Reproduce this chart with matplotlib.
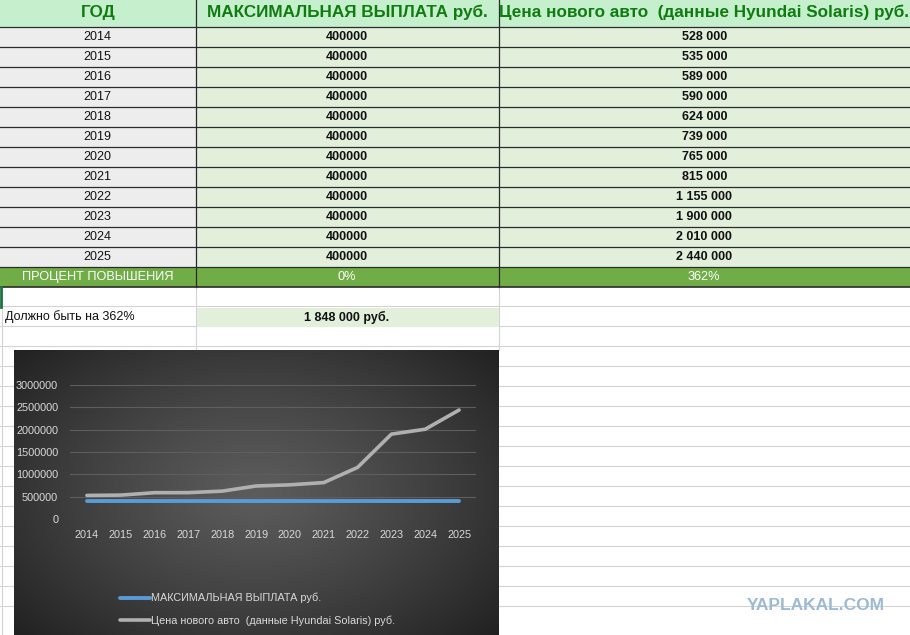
import numpy as np
import matplotlib.pyplot as plt
from matplotlib.patches import Rectangle

years = [2014, 2015, 2016, 2017, 2018, 2019, 2020, 2021, 2022, 2023, 2024, 2025]
max_payout = [400000] * 12
car_price = [528000, 535000, 589000, 590000, 624000, 739000,
             765000, 815000, 1155000, 1900000, 2010000, 2440000]
headers = ['ГОД', 'МАКСИМАЛЬНАЯ ВЫПЛАТА руб.',
           'Цена нового авто  (данные Hyundai Solaris) руб.']
percent_row = ['ПРОЦЕНТ ПОВЫШЕНИЯ', '0%', '362%']
should_label = 'Должно быть на 362%'
should_value = '1 848 000 руб.'
yticks = [0, 500000, 1000000, 1500000, 2000000, 2500000, 3000000]

W, H = 910, 635
col_x = [0, 195.5, 498.5, 910]
head_h = 27
row_h = 20

plt.rcParams['font.family'] = ['Liberation Sans', 'DejaVu Sans']

fig = plt.figure(figsize=(9.1, 6.35), dpi=100)
fig.patch.set_facecolor('white')

# --- spreadsheet part, pixel coordinates ---
sh = fig.add_axes([0, 0, 1, 1])
sh.set_xlim(0, W)
sh.set_ylim(H, 0)
sh.axis('off')

light_green = '#e2efda'
head_green = '#c6efce'
grey_cell = '#ededed'
dark_green = '#70ad47'
text_green = '#107c10'

def fmt(v):
    return f'{v:,}'.replace(',', ' ')

# faint sheet grid below / right
for k in range(16):
    y = 306 + k * row_h
    sh.plot([0, W], [y, y], color='#d4d4d4', lw=0.8, zorder=1)
sh.plot([2, 2], [286, H], color='#d4d4d4', lw=0.8, zorder=1)
sh.plot([col_x[1], col_x[1]], [286, 350], color='#d4d4d4', lw=0.8, zorder=1)
sh.plot([col_x[2], col_x[2]], [286, 350], color='#d4d4d4', lw=0.8, zorder=1)

# header
for i in range(3):
    sh.add_patch(Rectangle((col_x[i], 0), col_x[i + 1] - col_x[i], head_h,
                           fc=head_green, ec='none', zorder=2))
    sh.text((col_x[i] + col_x[i + 1]) / 2, head_h / 2 - 1, headers[i],
            ha='center', va='center', fontsize=12.3, fontweight='bold',
            color=text_green, zorder=4)

# data rows
for r, yr in enumerate(years):
    y0 = head_h + r * row_h
    sh.add_patch(Rectangle((col_x[0], y0), col_x[1] - col_x[0], row_h,
                           fc=grey_cell, ec='none', zorder=2))
    sh.add_patch(Rectangle((col_x[1], y0), col_x[3] - col_x[1], row_h,
                           fc=light_green, ec='none', zorder=2))
    yc = y0 + row_h / 2
    sh.text((col_x[0] + col_x[1]) / 2, yc, str(yr), ha='center', va='center',
            fontsize=9, color='#111111', zorder=4)
    sh.text((col_x[1] + col_x[2]) / 2, yc, str(max_payout[r]), ha='center',
            va='center', fontsize=9, fontweight='bold', color='#111111', zorder=4)
    sh.text((col_x[2] + col_x[3]) / 2, yc, fmt(car_price[r]), ha='center',
            va='center', fontsize=9, fontweight='bold', color='#111111', zorder=4)

# percent row
y0 = head_h + len(years) * row_h
sh.add_patch(Rectangle((0, y0), W, row_h, fc=dark_green, ec='none', zorder=2))
for i in range(3):
    sh.text((col_x[i] + col_x[i + 1]) / 2, y0 + row_h / 2, percent_row[i],
            ha='center', va='center', fontsize=9.2, color='white', zorder=4)

# table borders
for k in range(1, len(years) + 2):
    y = head_h + (k - 1) * row_h
    sh.plot([0, W], [y, y], color='#2b2b2b', lw=0.9, zorder=3)
sh.plot([0, W], [y0 + row_h, y0 + row_h], color='#2b2b2b', lw=1.2, zorder=3)
for x in col_x[1:3]:
    sh.plot([x, x], [0, y0 + row_h], color='#2b2b2b', lw=0.9, zorder=3)
sh.plot([1, 1], [y0 + row_h, y0 + 2 * row_h], color='#217346', lw=2, zorder=3)

# "should be" row
ys = y0 + 2 * row_h
sh.add_patch(Rectangle((col_x[1] + 1, ys + 0.5), col_x[2] - col_x[1] - 1, row_h - 1,
                       fc=light_green, ec='none', zorder=2))
sh.text(5, ys + row_h / 2, should_label, ha='left', va='center',
        fontsize=9, color='#111111', zorder=4)
sh.text((col_x[1] + col_x[2]) / 2, ys + row_h / 2, should_value, ha='center',
        va='center', fontsize=9, fontweight='bold', color='#111111', zorder=4)

sh.text(816, 605, 'YAPLAKAL.COM', ha='center', va='center', fontsize=12.5,
        fontweight='bold', color='#9dbad2', zorder=4)

# --- chart background with radial gradient ---
bx0, by0, bx1, by1 = 14, 350, 498, 635
bg = fig.add_axes([bx0 / W, 1 - by1 / H, (bx1 - bx0) / W, (by1 - by0) / H])
gx, gy = np.meshgrid(np.linspace(-1, 1, 300), np.linspace(-1, 1, 200))
rr = np.sqrt(gx ** 2 + (gy * 0.9) ** 2) / np.sqrt(1 + 0.81)
shade = 0.36 - 0.23 * rr ** 1.2
bg.imshow(np.dstack([shade] * 3), aspect='auto', extent=[0, 1, 0, 1],
          interpolation='bilinear')
bg.axis('off')

# --- chart plot area ---
px0, px1, py_top, py_bot = 70, 476, 385, 519
ax = fig.add_axes([px0 / W, 1 - py_bot / H, (px1 - px0) / W, (py_bot - py_top) / H])
ax.set_facecolor('none')
ax.plot(years, max_payout, color='#5b9bd5', lw=2.8, solid_capstyle='round',
        label=headers[1])
ax.plot(years, car_price, color='#b0b0b0', lw=2.6, solid_capstyle='round',
        label=headers[2])
ax.set_xlim(years[0] - 0.5, years[-1] + 0.5)
ax.set_ylim(0, 3000000)
ax.set_yticks(yticks)
ax.set_yticklabels([str(v) for v in yticks])
ax.set_xticks(years)
ax.set_xticklabels([str(y) for y in years])
ax.grid(axis='y', color='#5e5e5e', lw=0.8)
ax.set_axisbelow(True)
for s in ax.spines.values():
    s.set_visible(False)
ax.tick_params(length=0, colors='#d9d9d9', labelsize=7.8)
ax.tick_params(axis='y', pad=8.5)
ax.tick_params(axis='x', pad=8)

fig.legend(loc='upper left', bbox_to_anchor=(120 / W, 1 - 593 / H),
           frameon=False, fontsize=7.8, labelcolor='#d9d9d9',
           handlelength=2.8, handletextpad=0.1, labelspacing=1.1,
           borderpad=0, borderaxespad=0)

fig.savefig('out.png', dpi=100, facecolor='white')
